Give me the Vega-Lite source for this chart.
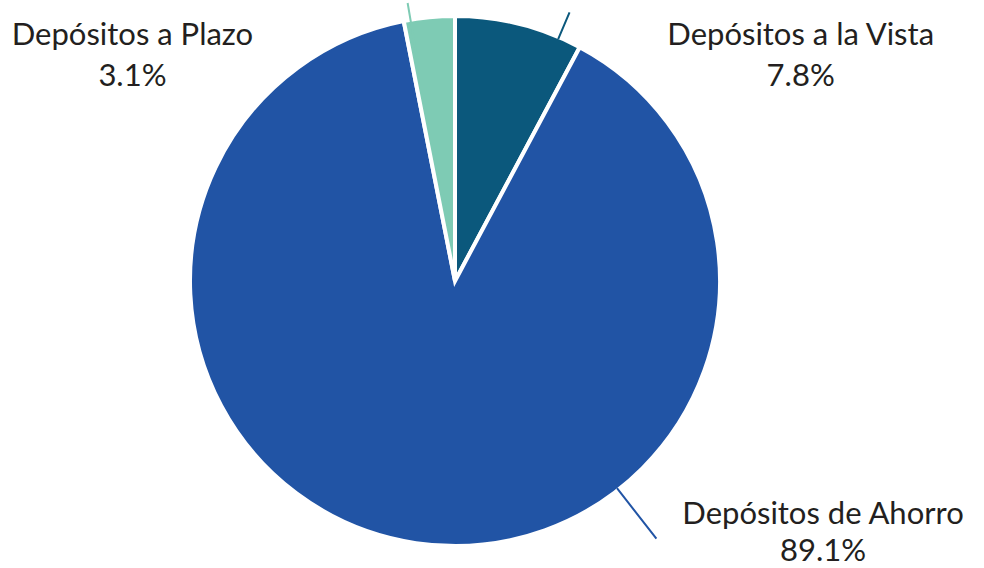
{
  "$schema": "https://vega.github.io/schema/vega-lite/v6.json",
  "width": 910,
  "height": 562,
  "autosize": {"type": "none"},
  "padding": {"left": 0, "top": 0, "right": 74, "bottom": 6},
  "background": "white",
  "config": {"view": {"stroke": null}},
  "data": {
    "values": [
      {"tipo": "Depósitos a la Vista", "pct": 0.078},
      {"tipo": "Depósitos de Ahorro", "pct": 0.891},
      {"tipo": "Depósitos a Plazo", "pct": 0.031}
    ]
  },
  "transform": [
    {"window": [{"op": "row_number", "as": "orden"}]},
    {"stack": "pct", "groupby": [], "sort": [{"field": "orden", "order": "ascending"}], "as": ["t0", "t1"]}
  ],
  "encoding": {
    "color": {
      "field": "tipo",
      "type": "nominal",
      "legend": null,
      "scale": {
        "domain": ["Depósitos a la Vista", "Depósitos de Ahorro", "Depósitos a Plazo"],
        "range": ["#0b587c", "#2154a5", "#7ecbb4"]
      }
    }
  },
  "layer": [
    {
      "mark": {"type": "arc", "outerRadius": 265, "stroke": "white", "strokeWidth": 4},
      "encoding": {
        "theta": {"field": "t0", "type": "quantitative", "stack": null, "scale": {"domain": [0, 1]}},
        "theta2": {"field": "t1"}
      }
    },
    {
      "transform": [{"filter": "datum.tipo === 'Depósitos a la Vista'"}],
      "mark": {"type": "arc", "filled": false, "strokeWidth": 2, "innerRadius": 263, "outerRadius": 292, "thetaOffset": -0.087, "theta2Offset": -0.087},
      "encoding": {
        "theta": {"field": "t1", "type": "quantitative", "stack": null},
        "theta2": {"field": "t1"}
      }
    },
    {
      "transform": [{"filter": "datum.tipo === 'Depósitos a Plazo'"}],
      "mark": {"type": "arc", "filled": false, "strokeWidth": 2, "innerRadius": 225, "outerRadius": 282, "thetaOffset": 0.026, "theta2Offset": 0.026},
      "encoding": {
        "theta": {"field": "t0", "type": "quantitative", "stack": null},
        "theta2": {"field": "t0"}
      }
    },
    {
      "transform": [{"filter": "datum.tipo === 'Depósitos de Ahorro'"}],
      "mark": {"type": "arc", "filled": false, "strokeWidth": 2, "innerRadius": 263, "outerRadius": 327, "thetaOffset": 1.988, "theta2Offset": 1.988},
      "encoding": {
        "theta": {"field": "t0", "type": "quantitative", "stack": null},
        "theta2": {"field": "t0"}
      }
    },
    {
      "transform": [{"filter": "datum.tipo === 'Depósitos a la Vista'"}],
      "encoding": {"theta": {"field": "t1", "type": "quantitative", "stack": null}, "color": {"value": "#231f20"}},
      "layer": [
        {"mark": {"type": "text", "radius": 267, "dx": 220, "dy": 0, "align": "center", "baseline": "alphabetic", "font": "Lato", "fontSize": 31}, "encoding": {"text": {"field": "tipo"}}},
        {"mark": {"type": "text", "radius": 267, "dx": 220, "dy": 41, "align": "center", "baseline": "alphabetic", "font": "Lato", "fontSize": 31}, "encoding": {"text": {"field": "pct", "type": "quantitative", "format": ".1%"}}}
      ]
    },
    {
      "transform": [{"filter": "datum.tipo === 'Depósitos a Plazo'"}],
      "encoding": {"theta": {"field": "t0", "type": "quantitative", "stack": null}, "color": {"value": "#231f20"}},
      "layer": [
        {"mark": {"type": "text", "radius": 240.5, "dx": -276, "dy": 0, "align": "center", "baseline": "alphabetic", "font": "Lato", "fontSize": 31}, "encoding": {"text": {"field": "tipo"}}},
        {"mark": {"type": "text", "radius": 240.5, "dx": -276, "dy": 41, "align": "center", "baseline": "alphabetic", "font": "Lato", "fontSize": 31}, "encoding": {"text": {"field": "pct", "type": "quantitative", "format": ".1%"}}}
      ]
    },
    {
      "transform": [{"filter": "datum.tipo === 'Depósitos de Ahorro'"}],
      "encoding": {"theta": {"field": "t0", "type": "quantitative", "stack": null}, "color": {"value": "#231f20"}},
      "layer": [
        {"mark": {"type": "text", "radius": 441.5, "thetaOffset": 1.666, "dy": -1, "align": "center", "baseline": "alphabetic", "font": "Lato", "fontSize": 31}, "encoding": {"text": {"field": "tipo"}}},
        {"mark": {"type": "text", "radius": 441.5, "thetaOffset": 1.666, "dy": 36, "align": "center", "baseline": "alphabetic", "font": "Lato", "fontSize": 31}, "encoding": {"text": {"field": "pct", "type": "quantitative", "format": ".1%"}}}
      ]
    }
  ]
}
